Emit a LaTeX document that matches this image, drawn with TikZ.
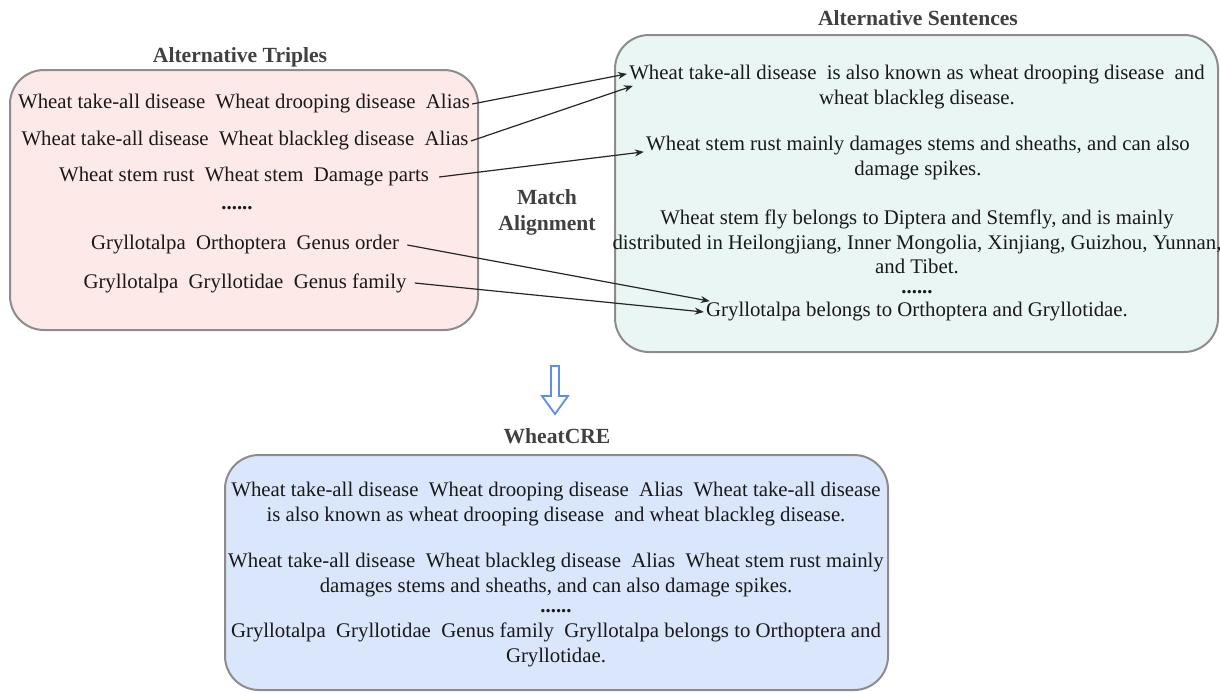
\documentclass[tikz,border=0pt]{standalone}
\usepackage{fontspec}
\setmainfont{Liberation Serif}
\usetikzlibrary{arrows.meta}
\definecolor{pinkfill}{HTML}{FDE9E8}
\definecolor{cyanfill}{HTML}{EAF6F3}
\definecolor{bluefill}{HTML}{DAE6FB}
\definecolor{boxgray}{HTML}{8C8C8C}
\definecolor{titlegray}{HTML}{404040}
\definecolor{arrowblue}{HTML}{5B8DEF}

\begin{document}
\begin{tikzpicture}[x=0.5pt,y=-0.5pt,
  box/.style={draw=boxgray,line width=1pt,rounded corners=17pt,inner sep=0pt},
  ttl/.style={font=\fontsize{10.8}{13}\selectfont\bfseries,text=titlegray,align=center,inner sep=0pt},
  txt/.style={font=\fontsize{10.4}{12.3}\selectfont,text=black!90,inner sep=1pt,align=center},
  link/.style={-{Stealth[length=4.5pt,width=3.5pt]},line width=0.6pt,black!85}]
\useasboundingbox (0,0) rectangle (1220,692);

\node[box,fill=pinkfill,minimum width=234pt,minimum height=130pt] (tripbox) at (244,200) {};
\node[box,fill=cyanfill,minimum width=301.5pt,minimum height=158.5pt] (sentbox) at (916.5,193.5) {};
\node[box,fill=bluefill,minimum width=331.5pt,minimum height=117.5pt] (crebox) at (556.5,572.5) {};

\node[ttl] (triptitle) at (240,57) {Alternative Triples};
\node[ttl] (senttitle) at (918,18) {Alternative Sentences};
\node[ttl] (match) at (547,212) {Match\\Alignment};
\node[ttl] (cretitle) at (557,436) {WheatCRE};

\node[txt] (t1) at (244,104) {Wheat take-all disease\ \ Wheat drooping disease\ \ Alias};
\node[txt] (t2) at (245,141) {Wheat take-all disease\ \ Wheat blackleg disease\ \ Alias};
\node[txt] (t3) at (244,177) {Wheat stem rust\ \ Wheat stem\ \ Damage parts};
\node[txt] (t4) at (237,208) {\textbf{......}};
\node[txt] (t5) at (245,245) {Gryllotalpa\ \ Orthoptera\ \ Genus order};
\node[txt] (t6) at (245,283) {Gryllotalpa\ \ Gryllotidae\ \ Genus family};

\node[txt] (s1) at (917,87) {Wheat take-all disease\ \ is also known as wheat drooping disease\ \ and\\wheat blackleg disease.};
\node[txt] (s2) at (918,158) {Wheat stem rust mainly damages stems and sheaths, and can also\\damage spikes.};
\node[txt] (s3) at (917,242) {Wheat stem fly belongs to Diptera and Stemfly, and is mainly\\distributed in Heilongjiang, Inner Mongolia, Xinjiang, Guizhou, Yunnan,\\and Tibet.};
\node[txt,inner sep=0pt] (s0) at (917,292) {\textbf{......}};
\node[txt] (s4) at (917,312) {Gryllotalpa belongs to Orthoptera and Gryllotidae.};

\draw[link] (t1.east) -- ([yshift=-5.5pt]s1.north west);
\draw[link] (t2.east) -- ([shift={(3pt,-11.5pt)}]s1.north west);
\draw[link] ([xshift=4pt]t3.east) -- ([yshift=-9pt]s2.north west);
\draw[link] ([xshift=3pt]t5.east) -- ([shift={(3pt,-0.5pt)}]s4.north west);
\draw[link] ([xshift=3pt]t6.east) -- (s4.west);

\draw[arrowblue,line width=0.9pt,fill=white,line join=miter] (551,366) -- (559,366) -- (559,396) -- (568,396) -- (555,414) -- (542,396) -- (551,396) -- cycle;

\node[txt] (c1) at (556,504) {Wheat take-all disease\ \ Wheat drooping disease\ \ Alias\ \ Wheat take-all disease\\is also known as wheat drooping disease\ \ and wheat blackleg disease.};
\node[txt] (c2) at (556,575) {Wheat take-all disease\ \ Wheat blackleg disease\ \ Alias\ \ Wheat stem rust mainly\\damages stems and sheaths, and can also damage spikes.};
\node[txt,inner sep=0pt] (c0) at (556,611) {\textbf{......}};
\node[txt] (c3) at (556,645) {Gryllotalpa\ \ Gryllotidae\ \ Genus family\ \ Gryllotalpa belongs to Orthoptera and\\Gryllotidae.};
\end{tikzpicture}
\end{document}
